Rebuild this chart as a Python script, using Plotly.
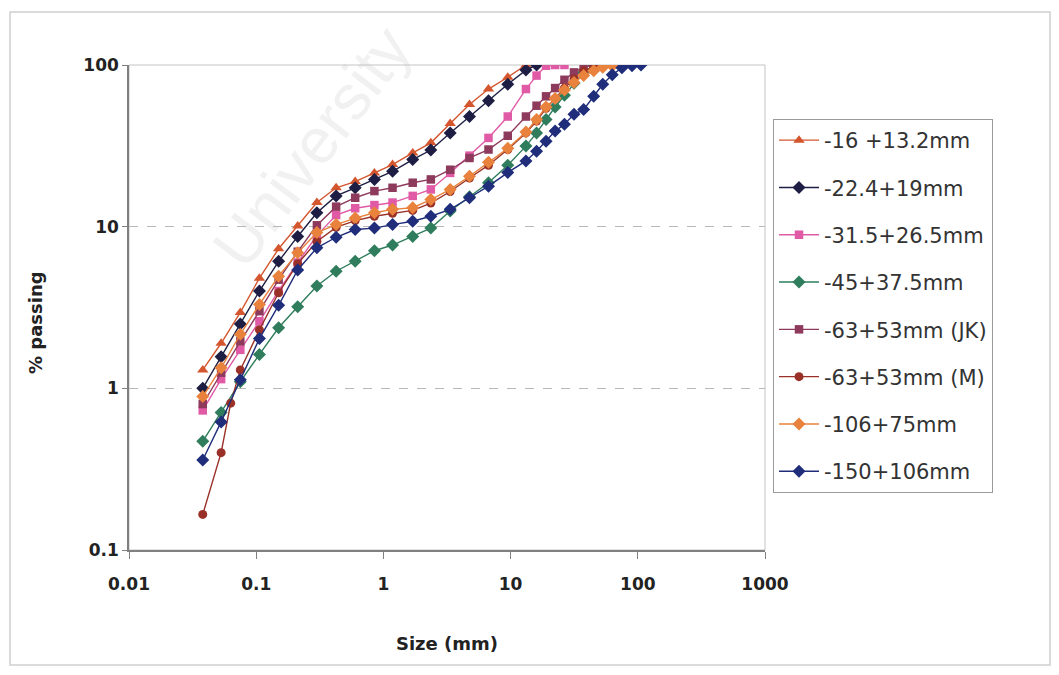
import plotly.graph_objects as go

# ---------------- data ----------------
SIZES = [0.038, 0.053, 0.075, 0.106, 0.15, 0.212, 0.3, 0.425, 0.6, 0.85,
         1.18, 1.7, 2.36, 3.35, 4.75, 6.7, 9.5, 13.2, 16, 19, 22.4, 26.5,
         31.5, 37.5, 45, 53, 63, 75, 90, 106]

SIZES_M = [0.038, 0.053, 0.063, 0.075, 0.106, 0.15, 0.212, 0.3, 0.425, 0.6,
           0.85, 1.18, 1.7, 2.36, 3.35, 4.75, 6.7, 9.5, 13.2, 16, 19, 22.4,
           26.5, 31.5, 37.5, 45, 53]

P_16_13 = [1.3, 1.9, 2.95, 4.8, 7.3, 10.1, 14.1, 17.4, 19.0, 21.5,
           24.2, 28.6, 33.0, 43.5, 57, 71, 84, 100]
P_22_19 = [1.0, 1.57, 2.5, 4.0, 6.1, 8.7, 12.2, 15.5, 17.4, 19.6,
           22.0, 26.0, 29.8, 38, 48, 60, 76, 93, 100]
P_31_26 = [0.73, 1.14, 1.73, 2.6, 4.0, 6.0, 8.8, 11.8, 13.0, 13.6,
           14.1, 15.5, 17.0, 21.5, 27.5, 35.4, 48, 71, 86, 99, 100, 100]
P_45_37 = [0.47, 0.71, 1.1, 1.62, 2.37, 3.2, 4.3, 5.3, 6.1, 7.1,
           7.7, 8.7, 9.8, 12.5, 15.3, 18.7, 24, 31.5, 38, 46, 55, 65,
           77, 90, 100]
P_63_53_JK = [0.80, 1.25, 1.95, 3.0, 4.7, 7.0, 10.2, 13.3, 15.1, 16.6,
              17.4, 18.7, 19.6, 22.5, 26.6, 30, 36.5, 48, 56, 64, 72, 81,
              90, 97, 100]
P_63_53_M = [0.166, 0.40, 0.81, 1.3, 2.3, 3.9, 5.9, 8.1, 9.9, 10.9,
             11.6, 12.1, 12.6, 14.0, 16.5, 20, 24, 30, 38, 45, 54, 62,
             72, 82, 92, 97, 100]
P_106_75 = [0.89, 1.34, 2.16, 3.3, 4.94, 6.9, 9.2, 10.3, 11.3, 12.2,
            12.8, 13.1, 14.7, 17.0, 20.5, 25, 30.5, 38.5, 46, 55, 62, 70,
            78, 86, 92, 97, 99, 100]
P_150_106 = [0.36, 0.62, 1.13, 2.03, 3.26, 5.4, 7.4, 8.6, 9.6, 9.8,
             10.3, 10.8, 11.6, 12.8, 15.1, 17.8, 21.6, 25.5, 29.3, 33.8,
             39, 43, 49.5, 53, 64, 76, 87, 96, 99, 100]

NAMES = ["-16 +13.2mm", "-22.4+19mm", "-31.5+26.5mm", "-45+37.5mm",
         "-63+53mm (JK)", "-63+53mm (M)", "-106+75mm", "-150+106mm"]

X_TICKS = [0.01, 0.1, 1, 10, 100, 1000]
X_TICKTEXT = ["0.01", "0.1", "1", "10", "100", "1000"]
Y_TICKS = [0.1, 1, 10, 100]
Y_TICKTEXT = ["0.1", "1", "10", "100"]

# ---------------- styles ----------------
series = [
    (SIZES, P_16_13, "#d4562e", "triangle-up", 10),
    (SIZES, P_22_19, "#1e1e44", "diamond", 10),
    (SIZES, P_31_26, "#e05aa6", "square", 8.5),
    (SIZES, P_45_37, "#2f7d5c", "diamond", 10),
    (SIZES, P_63_53_JK, "#8e3a5c", "square", 8.5),
    (SIZES_M, P_63_53_M, "#9a3128", "circle", 9),
    (SIZES, P_106_75, "#e8823c", "diamond", 10),
    (SIZES, P_150_106, "#1f2d7a", "diamond", 10),
]

fig = go.Figure()
for i, (xs, ys, col, sym, sz) in enumerate(series):
    fig.add_trace(go.Scatter(
        x=xs[:len(ys)], y=ys, name=NAMES[i], mode="lines+markers",
        line=dict(color=col, width=1.4),
        marker=dict(symbol=sym, size=sz, color=col),
        legendgroup=f"g{i}",
    ))

FONT = "Liberation Sans, Arial, sans-serif"
WIDE = "DejaVu Sans, Verdana, sans-serif"

# page offset of 8px (browser body margin) is compensated in the margins
fig.update_layout(
    width=1059, height=675,
    paper_bgcolor="white", plot_bgcolor="white",
    margin=dict(l=121, r=302, t=57, b=133),
    font=dict(family=FONT, color="#222222"),
    showlegend=True,
    legend=dict(
        x=1.0126, y=0.8887, xanchor="left", yanchor="top",
        bordercolor="#9a9a9a", borderwidth=1,
        font=dict(family=WIDE, size=21, color="#333333"),
        tracegroupgap=17, itemwidth=40,
    ),
    xaxis=dict(
        type="log", range=[-2, 3],
        tickvals=X_TICKS, ticktext=X_TICKTEXT,
        tickfont=dict(family=WIDE, size=17, weight="bold", color="#222222"),
        ticks="outside", ticklen=7, tickcolor="#808080",
        ticklabelstandoff=11,
        showline=True, linecolor="#808080", linewidth=1.5,
        showgrid=False, zeroline=False,
        title=dict(text="Size (mm)", standoff=44,
                   font=dict(family=WIDE, size=18, weight="bold", color="#222222")),
    ),
    yaxis=dict(
        type="log", range=[-1, 2],
        tickvals=Y_TICKS, ticktext=Y_TICKTEXT,
        tickfont=dict(family=WIDE, size=17, weight="bold", color="#222222"),
        ticks="outside", ticklen=5, tickcolor="#808080",
        showline=True, linecolor="#808080", linewidth=1.5,
        showgrid=True, gridcolor="#b8b8b8", griddash="dash", gridwidth=1,
        zeroline=False,
    ),
    shapes=[
        dict(type="rect", xref="paper", yref="paper", x0=0, x1=1, y0=0, y1=1,
             line=dict(color="#c4c4c4", width=1), layer="below"),
        dict(type="rect", xref="paper", yref="paper",
             x0=-119 / 636, x1=921 / 636, y0=-115 / 485, y1=1 + 53 / 485,
             line=dict(color="#d0d0d0", width=1.5), layer="below"),
    ],
    annotations=[
        dict(text="% passing", xref="paper", yref="paper",
             x=-0.1478, y=0.47, xanchor="center", yanchor="middle",
             showarrow=False, textangle=-90,
             font=dict(family=WIDE, size=18, weight="bold", color="#222222")),
        dict(text="University", xref="paper", yref="paper",
             x=0.288, y=0.83, xanchor="center", yanchor="middle",
             showarrow=False, textangle=-53,
             font=dict(family=FONT, size=64, color="rgba(190,190,190,0.22)")),
    ],
)

fig.write_html("out.html")
